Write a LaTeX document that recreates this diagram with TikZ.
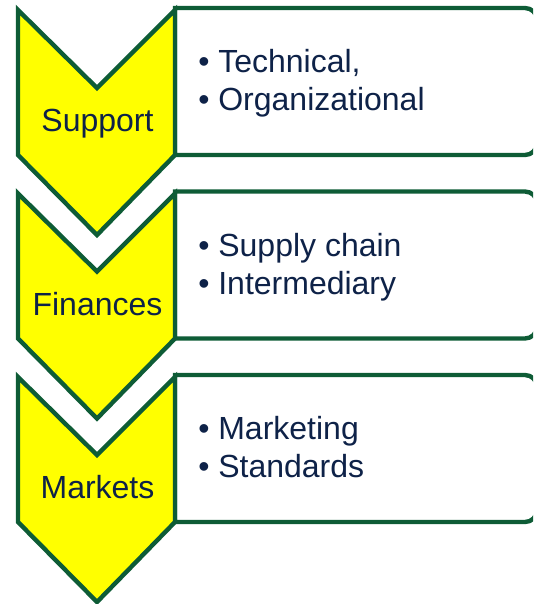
\documentclass[tikz,border=0pt]{standalone}
\usepackage{fontspec}
\setmainfont{Liberation Sans}
\definecolor{frame}{RGB}{14,92,54}
\definecolor{fillY}{RGB}{255,255,0}
\definecolor{ink}{RGB}{14,34,72}
\begin{document}
\begin{tikzpicture}[x=0.75pt,y=-0.75pt,
  chev/.style={draw=frame,fill=fillY,line width=3.3pt,line join=miter},
  infobox/.style={draw=frame,fill=white,line width=3.3pt},
  lbl/.style={anchor=base,text=ink,font=\fontsize{24}{28}\selectfont,inner sep=0pt},
  item/.style={anchor=base west,text=ink,font=\fontsize{24}{28}\selectfont,inner sep=0pt}]
\useasboundingbox (0,0) rectangle (533,604);
\begin{scope}
\clip (0,0) rectangle (533,604);
\foreach \t in {10,193.5,377}{
  \draw[infobox] (175,\t-2) [rounded corners=9pt] -- (537,\t-2) -- (537,\t+145) [sharp corners] -- (175,\t+145) -- cycle;
  \draw[chev] (18,\t) -- (97,\t+78) -- (175,\t) -- (175,\t+145) -- (97,\t+225) -- (18,\t+145) -- cycle;
}
\end{scope}
\node[lbl] (l1) at (97.5,131.5) {Support};
\node[lbl] (l2) at (97.5,315) {Finances};
\node[lbl] (l3) at (97.5,498.5) {Markets};
\node[item] (a1) at (198,72.5) {• Technical,};
\node[item] (a2) at (198,110.5) {• Organizational};
\node[item] (b1) at (198,256) {• Supply chain};
\node[item] (b2) at (198,294) {• Intermediary};
\node[item] (c1) at (198,439.5) {• Marketing};
\node[item] (c2) at (198,477.5) {• Standards};
\end{tikzpicture}
\end{document}
